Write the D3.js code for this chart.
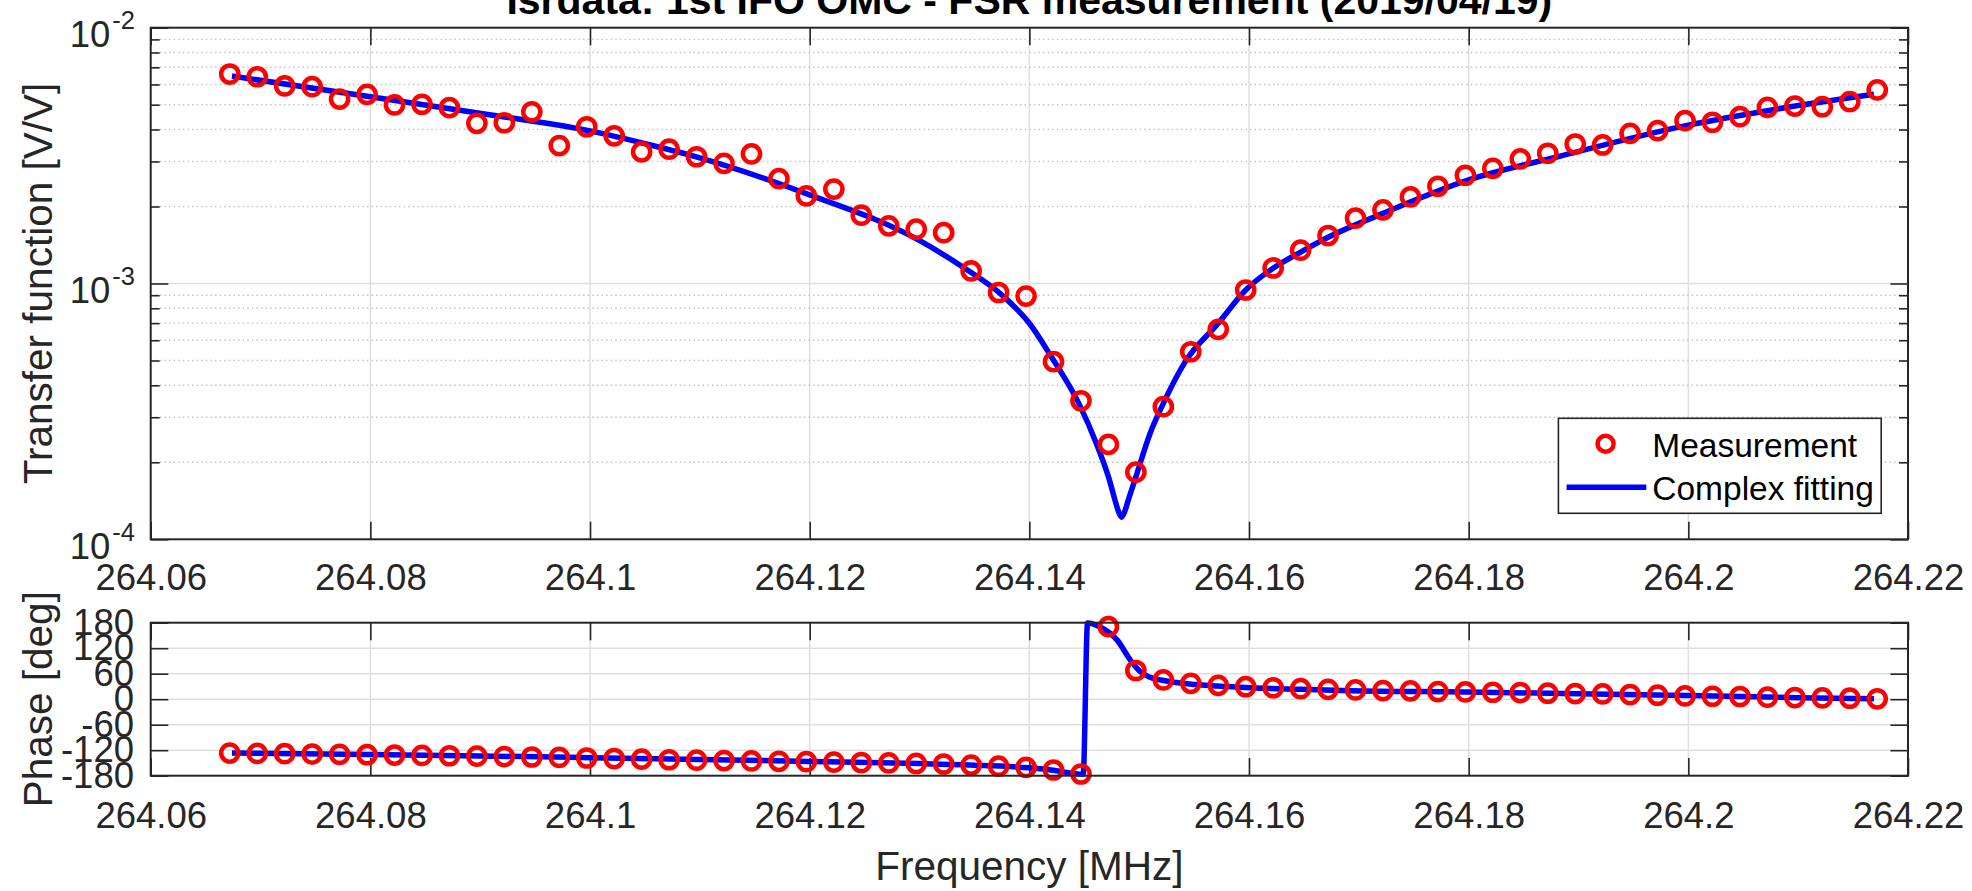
<!DOCTYPE html>
<html><head><meta charset="utf-8">
<script src="https://cdn.jsdelivr.net/npm/d3@7"></script>
<style>
html,body{margin:0;padding:0;background:#fff;}
svg{display:block;font-family:"Liberation Sans",Arial,Helvetica,sans-serif;}
</style></head><body>
<svg id="chart" width="1972" height="891"></svg>
<script>
// ---------------- data ----------------
const titleText = "Isrdata: 1st IFO OMC - FSR measurement (2019/04/19)";
const xLabelText = "Frequency [MHz]";
const yLabelTop = "Transfer function [V/V]";
const yLabelBottom = "Phase [deg]";
const legendLabels = ["Measurement", "Complex fitting"];

const freqTicks = [264.06, 264.08, 264.10, 264.12, 264.14, 264.16, 264.18, 264.20, 264.22];
const magTickExps = [-4, -3, -2];
const phaseTicks = [-180, -120, -60, 0, 60, 120, 180];

const measFreq = [264.0672, 264.0697, 264.0722, 264.0747, 264.0772, 264.0797, 264.0822, 264.0847, 264.0872, 264.0897,
  264.0922, 264.0947, 264.0972, 264.0997, 264.1022, 264.1047, 264.1072, 264.1097, 264.1122, 264.1147,
  264.1172, 264.1197, 264.1222, 264.1247, 264.1272, 264.1297, 264.1322, 264.1347, 264.1372, 264.1397,
  264.1422, 264.1447, 264.1472, 264.1497, 264.1522, 264.1547, 264.1572, 264.1597, 264.1622, 264.1647,
  264.1672, 264.1697, 264.1722, 264.1747, 264.1772, 264.1797, 264.1822, 264.1847, 264.1872, 264.1897,
  264.1922, 264.1947, 264.1972, 264.1997, 264.2022, 264.2047, 264.2072, 264.2097, 264.2122, 264.2147, 264.2172];

const measMag = [6.59e-3, 6.43e-3, 5.92e-3, 5.88e-3, 5.26e-3, 5.49e-3, 4.99e-3, 5.02e-3, 4.87e-3, 4.23e-3,
  4.25e-3, 4.69e-3, 3.46e-3, 4.10e-3, 3.78e-3, 3.27e-3, 3.35e-3, 3.13e-3, 2.95e-3, 3.21e-3,
  2.57e-3, 2.20e-3, 2.34e-3, 1.85e-3, 1.68e-3, 1.63e-3, 1.58e-3, 1.12e-3, 9.22e-4, 8.93e-4,
  4.95e-4, 3.48e-4, 2.35e-4, 1.83e-4, 3.30e-4, 5.41e-4, 6.62e-4, 9.43e-4, 1.15e-3, 1.35e-3,
  1.54e-3, 1.80e-3, 1.94e-3, 2.18e-3, 2.40e-3, 2.65e-3, 2.82e-3, 3.07e-3, 3.23e-3, 3.51e-3,
  3.48e-3, 3.86e-3, 3.96e-3, 4.33e-3, 4.27e-3, 4.49e-3, 4.88e-3, 4.94e-3, 4.91e-3, 5.14e-3, 5.71e-3];

const measPhase = [-126.8, -127.5, -128.2, -129.0, -129.8, -130.6, -131.4, -132.2, -133.0, -134.0,
  -135.0, -136.0, -137.0, -138.3, -139.6, -141.0, -142.5, -143.5, -144.4, -145.2,
  -146.1, -147.0, -148.0, -149.0, -150.0, -151.2, -152.5, -155.0, -157.5, -160.5,
  -166.6, -176.0, 170.6, 67.5, 45.3, 37.4, 32.7, 29.4, 27.0, 24.7,
  23.3, 21.9, 20.3, 19.6, 18.0, 17.2, 16.4, 15.7, 14.1, 13.3,
  12.5, 11.0, 9.4, 7.8, 7.0, 6.3, 4.7, 3.9, 3.1, 2.3, 0.8];

const fitMagFreq = [264.0674, 264.0800, 264.0910, 264.1000, 264.1055, 264.1100, 264.1200, 264.1299, 264.1339, 264.1376,
  264.1400, 264.1420, 264.1445, 264.1461, 264.1473, 264.1478, 264.1481, 264.1484, 264.1487, 264.1490,
  264.1496, 264.1510, 264.1522, 264.1542, 264.1572, 264.1597, 264.1624, 264.1647, 264.1672, 264.1722,
  264.1800, 264.1881, 264.2000, 264.2076, 264.2169];
const fitMag = [6.47e-3, 5.37e-3, 4.56e-3, 3.95e-3, 3.48e-3, 3.10e-3, 2.22e-3, 1.48e-3, 1.163e-3, 8.94e-4,
  6.99e-4, 5.17e-4, 3.40e-4, 2.37e-4, 1.70e-4, 1.42e-4, 1.29e-4, 1.22e-4, 1.29e-4, 1.42e-4,
  1.70e-4, 2.60e-4, 3.40e-4, 4.95e-4, 6.99e-4, 9.43e-4, 1.163e-3, 1.327e-3, 1.516e-3, 1.88e-3,
  2.54e-3, 3.13e-3, 4.16e-3, 4.77e-3, 5.49e-3];

const fitPhaseFreq = [264.0674, 264.0800, 264.0900, 264.1000, 264.1100, 264.1200, 264.1300, 264.1359, 264.1400, 264.1420,
  264.1449, 264.1453, 264.1464, 264.1480, 264.1492, 264.1501, 264.1510, 264.1525, 264.1546, 264.1571,
  264.1601, 264.1646, 264.1692, 264.1800, 264.1900, 264.2000, 264.2100, 264.2169];
const fitPhase = [-126.8, -130.0, -133.5, -137.5, -142.0, -146.5, -151.5, -156.0, -161.5, -166.5,
  -176.5, 179.5, 170.6, 139.0, 92.0, 64.7, 51.5, 42.8, 35.7, 31.0,
  27.0, 23.3, 20.0, 17.0, 12.7, 8.5, 3.7, 0.8];

// ---------------- layout ----------------
const L = 150.7, R = 1908;
const top1 = 27.7, bot1 = 539.3;
const top2 = 622.7, bot2 = 775.7;
const AX = "#262626", GRID = "#dfdfdf", MINOR = "#c2c2c2";
const TICK = 17.6, MINORTICK = 9;
const FS = 36.5;
const MR = 8.6, MSW = 4.5, LW = 5.5;

const svg = d3.select("#chart");
svg.append("rect").attr("width", 1972).attr("height", 891).attr("fill", "#fff");

const x = d3.scaleLinear().domain([264.06, 264.22]).range([L, R]);
const yM = d3.scaleLog().domain([1e-4, 1e-2]).range([bot1, top1]);
const yP = d3.scaleLinear().domain([-180, 180]).range([bot2, top2]);

const defs = svg.append("defs");
defs.append("clipPath").attr("id", "clip1").append("rect")
  .attr("x", L).attr("y", top1 - 3).attr("width", R - L).attr("height", bot1 - top1 + 6);
defs.append("clipPath").attr("id", "clip2").append("rect")
  .attr("x", L).attr("y", top2 - 3).attr("width", R - L).attr("height", bot2 - top2 + 6);

const fmtX = d3.format(".2~f");
const isMajor = v => Math.abs(Math.log10(v) - Math.round(Math.log10(v))) < 1e-9;
const minorVals = yM.ticks().filter(v => !isMajor(v));
const majorVals = magTickExps.map(e => Math.pow(10, e));

function styleAxis(g, showText) {
  g.select(".domain").remove();
  g.selectAll(".tick line").attr("stroke", AX).attr("stroke-width", 1.6);
  g.selectAll(".tick text").attr("fill", AX).attr("font-size", FS)
    .attr("font-family", "'Liberation Sans',Arial,sans-serif");
  if (!showText) g.selectAll(".tick text").remove();
}

// ================= TOP PLOT =================
const p1 = svg.append("g");
p1.append("g").selectAll("line").data(freqTicks.slice(1, -1)).join("line")
  .attr("x1", d => x(d)).attr("x2", d => x(d)).attr("y1", top1).attr("y2", bot1)
  .attr("stroke", GRID).attr("stroke-width", 1.5);
p1.append("g").selectAll("line").data(minorVals).join("line")
  .attr("x1", L).attr("x2", R).attr("y1", d => yM(d)).attr("y2", d => yM(d))
  .attr("stroke", MINOR).attr("stroke-width", 1.4).attr("stroke-dasharray", "1.4 3.2");
p1.append("g").selectAll("line").data(majorVals.slice(1, -1)).join("line")
  .attr("x1", L).attr("x2", R).attr("y1", d => yM(d)).attr("y2", d => yM(d))
  .attr("stroke", GRID).attr("stroke-width", 1.5);

p1.append("g").attr("transform", `translate(0,${bot1})`)
  .call(d3.axisBottom(x).tickValues(freqTicks).tickSize(-TICK).tickPadding(25).tickFormat(fmtX))
  .call(g => styleAxis(g, true));
p1.append("g").attr("transform", `translate(0,${top1})`)
  .call(d3.axisTop(x).tickValues(freqTicks).tickSize(-TICK).tickFormat(""))
  .call(g => styleAxis(g, false));
p1.append("g").attr("transform", `translate(${L},0)`)
  .call(d3.axisLeft(yM).tickValues(majorVals).tickSize(-TICK).tickFormat(""))
  .call(g => styleAxis(g, false));
p1.append("g").attr("transform", `translate(${L},0)`)
  .call(d3.axisLeft(yM).tickValues(minorVals).tickSize(-MINORTICK).tickFormat(""))
  .call(g => styleAxis(g, false));
p1.append("g").attr("transform", `translate(${R},0)`)
  .call(d3.axisRight(yM).tickValues(majorVals).tickSize(-TICK).tickFormat(""))
  .call(g => styleAxis(g, false));
p1.append("g").attr("transform", `translate(${R},0)`)
  .call(d3.axisRight(yM).tickValues(minorVals).tickSize(-MINORTICK).tickFormat(""))
  .call(g => styleAxis(g, false));

const ylab = p1.append("g").selectAll("text").data(magTickExps).join("text")
  .attr("x", L - 15.7).attr("y", d => yM(Math.pow(10, d)) + 19.7)
  .attr("text-anchor", "end").attr("fill", AX).attr("font-size", FS);
ylab.append("tspan").text("10");
ylab.append("tspan").attr("dx", 2).attr("dy", -18).attr("font-size", 25.5).text(d => String(d));

const plot1 = p1.append("g").attr("clip-path", "url(#clip1)");
const magLine = d3.line().x(d => x(d[0])).y(d => yM(d[1])).curve(d3.curveMonotoneX);
p1.append("g").selectAll("circle").data(measFreq.map((f, i) => [f, measMag[i]])).join("circle")
  .attr("cx", d => x(d[0])).attr("cy", d => yM(d[1])).attr("r", MR)
  .attr("fill", "none").attr("stroke", "#ff0000").attr("stroke-width", MSW);
plot1.append("path").datum(fitMagFreq.map((f, i) => [f, fitMag[i]]))
  .attr("d", magLine).attr("fill", "none").attr("stroke", "#0000ff").attr("stroke-width", LW)
  .attr("stroke-linejoin", "round");

p1.append("rect").attr("x", L).attr("y", top1).attr("width", R - L).attr("height", bot1 - top1)
  .attr("fill", "none").attr("stroke", AX).attr("stroke-width", 2);

// legend
const lg = p1.append("g");
lg.append("rect").attr("x", 1558.4).attr("y", 418.3).attr("width", 1881.2 - 1558.4).attr("height", 513.3 - 418.3)
  .attr("fill", "#fff").attr("stroke", AX).attr("stroke-width", 1.6);
lg.append("circle").attr("cx", 1605.6).attr("cy", 443.8).attr("r", MR - 0.6)
  .attr("fill", "none").attr("stroke", "#ff0000").attr("stroke-width", MSW);
lg.append("line").attr("x1", 1566.6).attr("x2", 1646.3).attr("y1", 487.3).attr("y2", 487.3)
  .attr("stroke", "#0000ff").attr("stroke-width", LW);
lg.selectAll("text").data(legendLabels).join("text")
  .attr("x", 1652.3).attr("y", (d, i) => i === 0 ? 456.7 : 500)
  .attr("font-size", 33.5).attr("fill", "#000").text(d => d);

svg.append("text").attr("x", (L + R) / 2).attr("y", 13.5).attr("text-anchor", "middle")
  .attr("font-size", 41).attr("font-weight", "bold").attr("fill", "#000").text(titleText);

svg.append("text").attr("transform", `translate(52,${(top1 + bot1) / 2}) rotate(-90)`)
  .attr("text-anchor", "middle").attr("font-size", 40.5).attr("fill", AX).text(yLabelTop);

// ================= BOTTOM PLOT =================
const p2 = svg.append("g");
p2.append("g").selectAll("line").data(freqTicks.slice(1, -1)).join("line")
  .attr("x1", d => x(d)).attr("x2", d => x(d)).attr("y1", top2).attr("y2", bot2)
  .attr("stroke", GRID).attr("stroke-width", 1.5);
p2.append("g").selectAll("line").data(phaseTicks.slice(1, -1)).join("line")
  .attr("x1", L).attr("x2", R).attr("y1", d => yP(d)).attr("y2", d => yP(d))
  .attr("stroke", GRID).attr("stroke-width", 1.6);

p2.append("g").attr("transform", `translate(0,${bot2})`)
  .call(d3.axisBottom(x).tickValues(freqTicks).tickSize(-TICK).tickPadding(26.5).tickFormat(fmtX))
  .call(g => styleAxis(g, true));
p2.append("g").attr("transform", `translate(0,${top2})`)
  .call(d3.axisTop(x).tickValues(freqTicks).tickSize(-TICK).tickFormat(""))
  .call(g => styleAxis(g, false));
p2.append("g").attr("transform", `translate(${L},0)`)
  .call(d3.axisLeft(yP).tickValues(phaseTicks).tickSize(-TICK).tickPadding(16.7).tickFormat(d => String(d)))
  .call(g => styleAxis(g, true));
p2.append("g").attr("transform", `translate(${R},0)`)
  .call(d3.axisRight(yP).tickValues(phaseTicks).tickSize(-TICK).tickFormat(""))
  .call(g => styleAxis(g, false));

const plot2 = p2.append("g").attr("clip-path", "url(#clip2)");
const phLine = d3.line().x(d => x(d[0])).y(d => yP(d[1])).curve(d3.curveMonotoneX);
p2.append("g").selectAll("circle").data(measFreq.map((f, i) => [f, measPhase[i]])).join("circle")
  .attr("cx", d => x(d[0])).attr("cy", d => yP(d[1])).attr("r", MR)
  .attr("fill", "none").attr("stroke", "#ff0000").attr("stroke-width", MSW);
plot2.append("path").datum(fitPhaseFreq.map((f, i) => [f, fitPhase[i]]))
  .attr("d", phLine).attr("fill", "none").attr("stroke", "#0000ff").attr("stroke-width", LW)
  .attr("stroke-linejoin", "round");

p2.append("rect").attr("x", L).attr("y", top2).attr("width", R - L).attr("height", bot2 - top2)
  .attr("fill", "none").attr("stroke", AX).attr("stroke-width", 2);

svg.append("text").attr("transform", `translate(52,${(top2 + bot2) / 2}) rotate(-90)`)
  .attr("text-anchor", "middle").attr("font-size", 40.5).attr("fill", AX).text(yLabelBottom);

svg.append("text").attr("x", (L + R) / 2).attr("y", 880).attr("text-anchor", "middle")
  .attr("font-size", 40.5).attr("fill", AX).text(xLabelText);
</script>
</body></html>
